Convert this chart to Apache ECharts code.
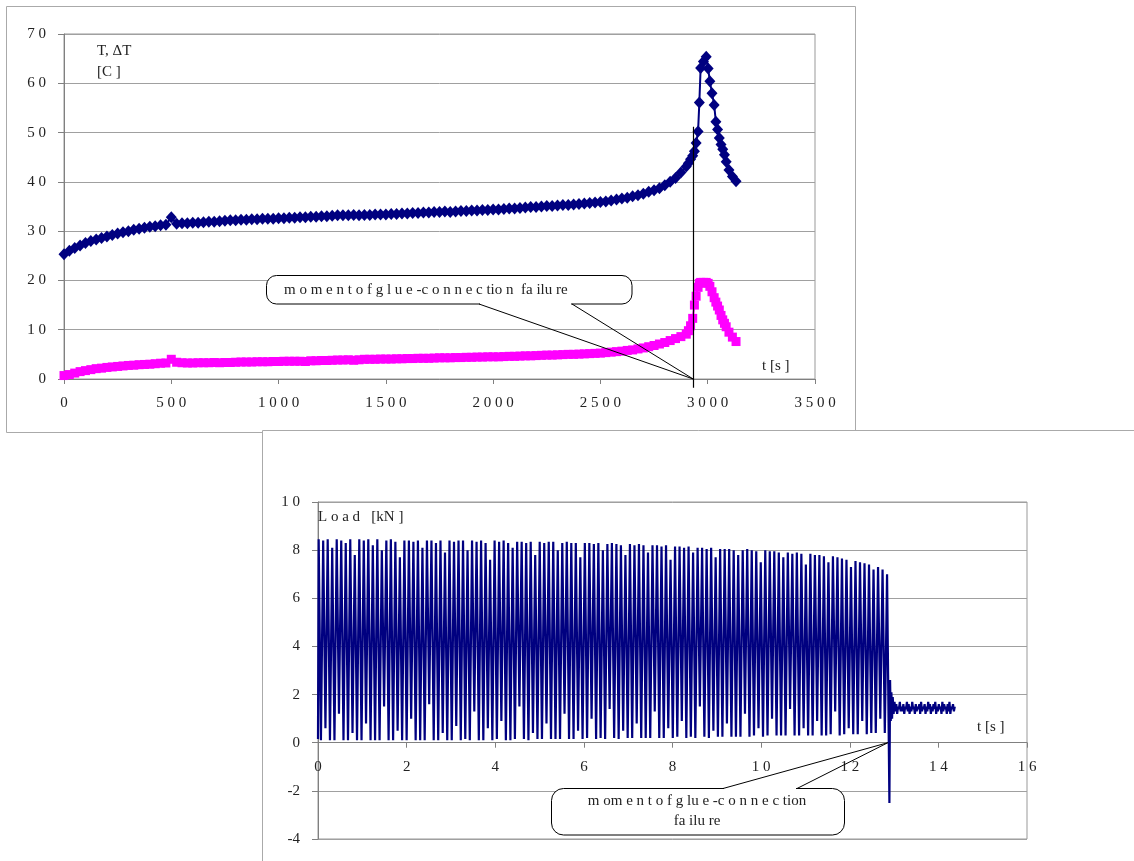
<!DOCTYPE html>
<html><head><meta charset="utf-8">
<script src="https://cdn.jsdelivr.net/npm/echarts@6/dist/echarts.min.js"></script>
<style>html,body{margin:0;padding:0;background:#fff}#c{width:1134px;height:861px}</style>
</head><body><div id="c"></div>
<script>
// ---------- Top chart: temperature T and temperature rise dT ----------
const tempStep = 25; // s, logging interval before failure
const tempT = [
 25.3, 26.0, 26.6, 27.1, 27.6, 28.0, 28.3, 28.6, 28.9, 29.2,
 29.5, 29.8, 30.0, 30.3, 30.5, 30.7, 30.9, 31.0, 31.2, 31.3,
 32.8, 31.5, 31.6, 31.6, 31.7, 31.7, 31.8, 31.9, 31.9, 32.0,
 32.1, 32.2, 32.2, 32.3, 32.3, 32.4, 32.4, 32.5, 32.5, 32.5,
 32.6, 32.6, 32.7, 32.7, 32.8, 32.8, 32.9, 32.9, 33.0, 33.0,
 33.1, 33.2, 33.2, 33.2, 33.3, 33.2, 33.3, 33.3, 33.4, 33.4,
 33.4, 33.5, 33.5, 33.6, 33.6, 33.7, 33.7, 33.8, 33.8, 33.9,
 33.9, 34.0, 33.9, 34.0, 34.1, 34.1, 34.2, 34.2, 34.3, 34.3,
 34.4, 34.4, 34.5, 34.6, 34.6, 34.7, 34.8, 34.9, 34.9, 35.0,
 35.1, 35.1, 35.2, 35.3, 35.3, 35.4, 35.5, 35.6, 35.7, 35.8,
 35.9, 36.0, 36.2, 36.4, 36.6, 36.8, 37.1, 37.3, 37.6, 38.0,
 38.3, 38.7, 39.3, 40.0, 40.8, 41.9, 43.1
];
const deltaT = [
 0.7, 0.9, 1.2, 1.5, 1.7, 1.9, 2.1, 2.2, 2.35, 2.45,
 2.55, 2.65, 2.75, 2.8, 2.9, 2.95, 3.0, 3.1, 3.2, 3.25,
 4.0, 3.4, 3.3, 3.25, 3.25, 3.3, 3.3, 3.3, 3.35, 3.3,
 3.35, 3.35, 3.4, 3.45, 3.45, 3.45, 3.5, 3.5, 3.5, 3.55,
 3.55, 3.6, 3.6, 3.6, 3.6, 3.55, 3.7, 3.7, 3.75, 3.75,
 3.8, 3.85, 3.85, 3.9, 3.8, 3.9, 4.0, 4.0, 4.0, 4.05,
 4.05, 4.05, 4.1, 4.1, 4.15, 4.15, 4.2, 4.2, 4.2, 4.25,
 4.3, 4.3, 4.3, 4.35, 4.35, 4.4, 4.4, 4.45, 4.45, 4.5,
 4.5, 4.5, 4.55, 4.6, 4.6, 4.65, 4.7, 4.7, 4.75, 4.8,
 4.85, 4.85, 4.9, 4.95, 5.0, 5.0, 5.05, 5.1, 5.15, 5.2,
 5.25, 5.35, 5.45, 5.55, 5.65, 5.8, 5.9, 6.1, 6.3, 6.55,
 6.8, 7.1, 7.4, 7.8, 8.2, 8.6, 9.1
];
// denser readings around the failure
const peakTime = [2910, 2920, 2930, 2938, 2946, 2955, 2961, 2967, 2980, 2993, 3002, 3010, 3020, 3030, 3038, 3046, 3054, 3062, 3070, 3078, 3086, 3099, 3115, 3132];
const peakT    = [43.8, 44.6, 45.3, 46.2, 47.9, 50.2, 56.1, 63.1, 64.4, 65.4, 63.0, 60.4, 58.0, 55.6, 52.2, 50.6, 48.9, 47.6, 46.6, 45.5, 44.1, 42.4, 41.1, 40.1];
const peakDT   = [9.8, 10.8, 12.3, 15.0, 16.8, 18.6, 19.4, 19.6, 19.6, 19.6, 19.4, 18.8, 17.7, 16.5, 15.6, 14.8, 14.0, 12.9, 12.0, 11.3, 10.6, 9.5, 8.5, 7.6];
const failTimeTop = 2930;
const topXTicks = [0, 3500, 500];  // min, max, interval
const topYTicks = [0, 70, 10];

// ---------- Bottom chart: load ----------
const loadCycle = 0.1018;   // s per load cycle
const rampShare = 0.15;     // share of a cycle spent rising / falling
const loadHi = [
 8.45, 8.40, 8.45, 8.10, 8.45, 8.40, 8.30, 8.45, 7.80, 8.45,
 8.40, 8.45, 8.20, 8.45, 8.00, 8.40, 8.45, 8.35, 7.70, 8.40,
 8.40, 8.35, 8.40, 8.10, 8.40, 8.40, 8.30, 8.40, 7.90, 8.40,
 8.35, 8.40, 8.40, 8.00, 8.40, 8.35, 8.40, 8.30, 7.60, 8.40,
 8.35, 8.40, 8.30, 8.10, 8.35, 8.35, 8.30, 8.35, 7.80, 8.35,
 8.30, 8.35, 8.35, 8.00, 8.30, 8.35, 8.30, 8.30, 7.70, 8.30,
 8.30, 8.25, 8.30, 8.00, 8.25, 8.30, 8.25, 8.20, 7.80, 8.25,
 8.20, 8.25, 8.20, 7.90, 8.20, 8.20, 8.15, 8.20, 7.60, 8.15,
 8.15, 8.10, 8.15, 7.90, 8.10, 8.10, 8.05, 8.10, 7.70, 8.05,
 8.05, 8.05, 8.00, 7.80, 8.00, 8.05, 8.00, 7.95, 7.50, 8.00,
 7.95, 7.95, 7.90, 7.70, 7.90, 7.85, 7.90, 7.85, 7.40, 7.85,
 7.80, 7.80, 7.75, 7.50, 7.75, 7.70, 7.65, 7.60, 7.30, 7.55,
 7.50, 7.45, 7.40, 7.20, 7.30, 7.20, 7.00
];
const loadLo = [
 0.15, 0.10, 0.60, 0.10, 0.10, 1.20, 0.10, 0.10, 0.40, 0.10,
 0.10, 0.80, 0.10, 0.10, 0.10, 1.50, 0.10, 0.10, 0.50, 0.10,
 0.10, 1.00, 0.10, 0.10, 0.10, 1.60, 0.10, 0.10, 0.40, 0.10,
 0.10, 0.70, 0.10, 0.15, 0.10, 1.30, 0.10, 0.10, 0.60, 0.10,
 0.15, 0.90, 0.10, 0.10, 0.15, 1.50, 0.15, 0.10, 0.40, 0.15,
 0.15, 0.80, 0.15, 0.15, 0.15, 1.20, 0.15, 0.15, 0.50, 0.15,
 0.20, 1.00, 0.15, 0.20, 0.15, 1.40, 0.20, 0.15, 0.50, 0.20,
 0.20, 0.80, 0.20, 0.20, 0.20, 1.30, 0.20, 0.20, 0.60, 0.20,
 0.25, 0.90, 0.20, 0.25, 0.20, 1.50, 0.25, 0.20, 0.50, 0.25,
 0.25, 0.80, 0.25, 0.25, 0.25, 1.20, 0.25, 0.30, 0.60, 0.25,
 0.30, 1.00, 0.30, 0.30, 0.30, 1.40, 0.30, 0.30, 0.60, 0.30,
 0.30, 0.90, 0.30, 0.30, 0.35, 1.30, 0.30, 0.35, 0.60, 0.35,
 0.35, 0.90, 0.35, 0.40, 0.40, 1.00, 0.40
];
const failTimes = [12.895, 12.91, 12.925, 12.94, 12.955, 12.97];
const failLoads = [-2.5, 2.6, 0.9, 2.1, 1.0, 1.9];
const postStart = 12.99, postStep = 0.02;
const postLoads = [
 1.2,1.7,1.3,1.6,1.2,1.5,1.4,1.7,1.3,1.5,1.3,1.6,1.2,1.5,1.4,1.7,1.3,1.6,1.2,1.5,
 1.3,1.7,1.4,1.5,1.2,1.6,1.3,1.5,1.4,1.6,1.2,1.7,1.3,1.5,1.4,1.6,1.2,1.5,1.3,1.7,
 1.4,1.6,1.2,1.5,1.3,1.6,1.4,1.7,1.2,1.5,1.3,1.6,1.4,1.5,1.2,1.7,1.3,1.6,1.4,1.5,
 1.2,1.6,1.3,1.7,1.2,1.5,1.4,1.6,1.3,1.5
];
const failTimeBottom = 12.86;
const botXTicks = [0, 16, 2];
const botYTicks = [-4, 10, 2];

// ---------- build ----------
const NAVY = '#000080', PINK = '#ff00ff';
const FONT = '"Liberation Serif", "DejaVu Serif", serif';
const tTimes = tempT.map((_, i) => i * tempStep).concat(peakTime);
const allT = tempT.concat(peakT), allDT = deltaT.concat(peakDT);
const seriesT = tTimes.map((t, i) => [t, allT[i]]);
const seriesDT = tTimes.map((t, i) => [t, allDT[i]]);
// each cycle: trough, quick rise, peak held, quick fall
const loadData = [];
for (let i = 0; i < loadHi.length; i++) {
  const t0 = i * loadCycle, r = rampShare * loadCycle, h = loadCycle / 2;
  loadData.push([t0, loadLo[i]], [t0 + r, loadHi[i]], [t0 + h, loadHi[i]]);
  if (i < loadHi.length - 1) loadData.push([t0 + h + r, loadLo[i + 1]]);
}
failTimes.forEach((t, i) => loadData.push([t, failLoads[i]]));
postLoads.forEach((v, i) => loadData.push([postStart + i * postStep, v]));

const spaced = v => { const s = String(v); return s[0] === '-' ? s : s.split('').join(' '); };
const axisCommon = (ticks, gi, isX, offset) => ({
  type: 'value', gridIndex: gi, min: ticks[0], max: ticks[1], interval: ticks[2],
  offset: offset || 0,
  axisLine: { show: true, onZero: false, lineStyle: { color: '#808080', width: 1 } },
  axisTick: { show: true, length: isX ? 5 : 6, lineStyle: { color: '#808080' } },
  axisLabel: { color: '#222', fontFamily: FONT, fontSize: 15, margin: isX ? 17 : 18, formatter: spaced },
  splitLine: { show: !isX, lineStyle: { color: '#a0a0a0', width: 1 } }
});

const BOT_H = 337;
const chart = echarts.init(document.getElementById('c'), null, { renderer: 'canvas' });
chart.setOption({
  animation: false,
  backgroundColor: '#fff',
  grid: [
    { left: 64, top: 34, width: 751, height: 345, show: true, borderColor: '#999', borderWidth: 1, outerBoundsMode: 'none' },
    { left: 318, top: 502, width: 709, height: BOT_H, show: true, borderColor: '#999', borderWidth: 1, outerBoundsMode: 'none' }
  ],
  xAxis: [
    axisCommon(topXTicks, 0, true, 0),
    // x axis crosses at load = 0
    axisCommon(botXTicks, 1, true, -BOT_H * (0 - botYTicks[0]) / (botYTicks[1] - botYTicks[0]))
  ],
  yAxis: [axisCommon(topYTicks, 0, false), axisCommon(botYTicks, 1, false)],
  series: [
    { name: 'dT', type: 'line', xAxisIndex: 0, yAxisIndex: 0, data: seriesDT,
      symbol: 'rect', symbolSize: 9, showSymbol: true, showAllSymbol: true,
      itemStyle: { color: PINK }, lineStyle: { color: PINK, width: 2 } },
    { name: 'T', type: 'line', xAxisIndex: 0, yAxisIndex: 0, data: seriesT,
      symbol: 'diamond', symbolSize: [11, 12], showSymbol: true, showAllSymbol: true,
      itemStyle: { color: NAVY }, lineStyle: { color: NAVY, width: 2 } },
    { name: 'Load', type: 'line', xAxisIndex: 1, yAxisIndex: 1, data: loadData,
      showSymbol: false, symbol: 'none', sampling: null,
      lineStyle: { color: NAVY, width: 2.2, join: 'bevel' } }
  ]
});

const px = (gi, x, y) => chart.convertToPixel({ gridIndex: gi }, [x, y]);
const tipTop = px(0, failTimeTop, 0);
const lineTopA = px(0, failTimeTop, 51.2);
const lineTopB = px(0, failTimeTop, -1.8);
const tipBot = px(1, failTimeBottom, 0);
const txt = (x, y, text, align, size) => ({
  type: 'text', z: 110, x, y,
  style: { text, fill: '#222', fontFamily: FONT, fontSize: size || 15, align: align || 'left', verticalAlign: 'middle' }
});
const CAPTION = 'm o m e n t o f g l u e -c o n n e c tio n  fa ilu re';

chart.setOption({
  graphic: [
    // frames
    { type: 'polyline', z: 0, shape: { points: [[262, 432.5], [6.5, 432.5], [6.5, 6.5], [855.5, 6.5], [855.5, 431]] },
      style: { stroke: '#aaa', fill: null, lineWidth: 1 } },
    { type: 'polyline', z: 0, shape: { points: [[262.5, 861], [262.5, 430.5], [1134, 430.5]] },
      style: { stroke: '#aaa', fill: null, lineWidth: 1 } },
    // failure line (top)
    { type: 'line', z: 100, shape: { x1: Math.round(lineTopA[0]) + 0.5, y1: lineTopA[1], x2: Math.round(lineTopB[0]) + 0.5, y2: lineTopB[1] },
      style: { stroke: '#000', lineWidth: 1.2 } },
    // top callout
    { type: 'rect', z: 100, shape: { x: 266.5, y: 275.5, width: 365.5, height: 28.5, r: 10 },
      style: { fill: '#fff', stroke: '#000', lineWidth: 1 } },
    { type: 'line', z: 101, shape: { x1: 480, y1: 304, x2: 571, y2: 304 }, style: { stroke: '#fff', lineWidth: 2.5 } },
    { type: 'polyline', z: 102, shape: { points: [[479, 304], [tipTop[0] + 0.5, tipTop[1]], [572, 304]] },
      style: { stroke: '#000', fill: null, lineWidth: 1 } },
    txt(284, 290, CAPTION, 'left', 15),
    // bottom callout
    { type: 'rect', z: 100, shape: { x: 551.5, y: 788.5, width: 293, height: 46.5, r: 12 },
      style: { fill: '#fff', stroke: '#000', lineWidth: 1 } },
    { type: 'line', z: 101, shape: { x1: 724, y1: 788.5, x2: 796, y2: 788.5 }, style: { stroke: '#fff', lineWidth: 2.5 } },
    { type: 'polyline', z: 102, shape: { points: [[723, 788.5], [tipBot[0], tipBot[1]], [797, 788.5]] },
      style: { stroke: '#000', fill: null, lineWidth: 1 } },
    txt(697, 801, 'm om e n t o f g lu e -c o n n e c tion', 'center', 15),
    txt(697, 821, 'fa ilu re', 'center', 15),
    // axis titles
    txt(97, 51, 'T, \u0394T', 'left', 15),
    txt(97, 72, '[C ]', 'left', 15),
    txt(762, 366, 't [s ]', 'left', 15),
    txt(318, 517, 'L o a d   [kN ]', 'left', 15),
    txt(977, 727, 't [s ]', 'left', 15)
  ]
});
</script></body></html>
